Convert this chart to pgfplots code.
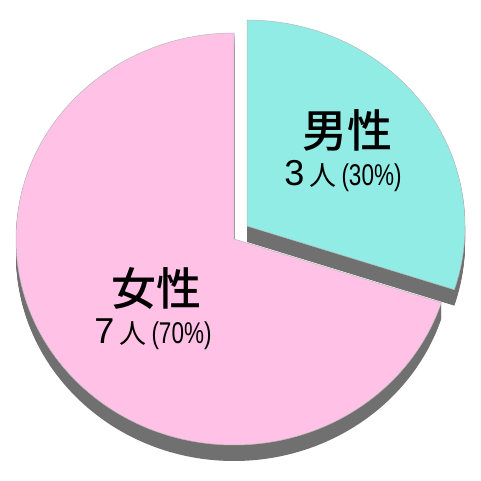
\documentclass[border=0pt]{standalone}
\usepackage{fontspec}
\setmainfont{Liberation Sans}
\newfontfamily\jp{Noto Sans CJK JP}
\newfontfamily\jpm{Noto Sans CJK JP}[UprightFont=* Medium]
\usepackage{graphicx}
\usepackage{pgfplots}
\usepackage{pgfplotstable}
\pgfplotsset{compat=1.18}
\definecolor{pinkface}{RGB}{255,193,230}
\definecolor{cyanface}{RGB}{145,236,229}
\definecolor{sidegray}{RGB}{112,112,112}
\definecolor{rimgray}{RGB}{185,185,185}

\pgfplotstableread{
label value
male 3
female 7
}\piedata

\pgfplotstablegetelem{0}{value}\of\piedata \let\vm\pgfplotsretval
\pgfplotstablegetelem{1}{value}\of\piedata \let\vf\pgfplotsretval
\pgfmathsetmacro\am{360*\vm/(\vm+\vf)}
\pgfmathsetmacro\ms{90-\am}      % male start angle
\pgfmathsetmacro\fe{450-\am}     % female end angle

\newcommand\cnt[3]{{\fontsize{36bp}{36bp}\selectfont #1}\hspace{5bp}{\jp\fontsize{27bp}{27bp}\selectfont #2}\hspace{5bp}\scalebox{0.75}[1]{\fontsize{30bp}{30bp}\selectfont (#3\%)}}

\begin{document}
\begin{tikzpicture}
\begin{axis}[width=481bp,height=481bp,scale only axis,
  xmin=0,xmax=481,ymin=0,ymax=481,hide axis,clip=false]
\path (axis cs:0,0) rectangle (axis cs:481,481);
% female slice: extrusion
\pgfplotsinvokeforeach{16,15,...,1}{
  \fill[sidegray] ([yshift=-#1bp]axis cs:234,242) -- ++(90:218bp and 206bp)
    arc[start angle=90,end angle=\fe,x radius=218bp,y radius=206bp] -- cycle;
}
\fill[pinkface,draw=rimgray,line width=0.5bp] (axis cs:234,242) -- ++(90:218bp and 206bp)
    arc[start angle=90,end angle=\fe,x radius=218bp,y radius=206bp] -- cycle;
% male slice (exploded): extrusion
\pgfplotsinvokeforeach{16,15,...,1}{
  \fill[sidegray] ([yshift=-#1bp]axis cs:247,255) -- ++(\ms:218bp and 206bp)
    arc[start angle=\ms,end angle=90,x radius=218bp,y radius=206bp] -- cycle;
}
\fill[cyanface,draw=rimgray,line width=0.5bp] (axis cs:247,255) -- ++(\ms:218bp and 206bp)
    arc[start angle=\ms,end angle=90,x radius=218bp,y radius=206bp] -- cycle;
% labels
\node at (axis cs:347,351) {\jpm\fontsize{45bp}{45bp}\selectfont 男性};
\node at (axis cs:343,305) {\cnt{3}{人}{30}};
\node at (axis cs:156,192) {\jpm\fontsize{45bp}{45bp}\selectfont 女性};
\node at (axis cs:153,147) {\cnt{7}{人}{70}};
\end{axis}
\end{tikzpicture}
\end{document}
